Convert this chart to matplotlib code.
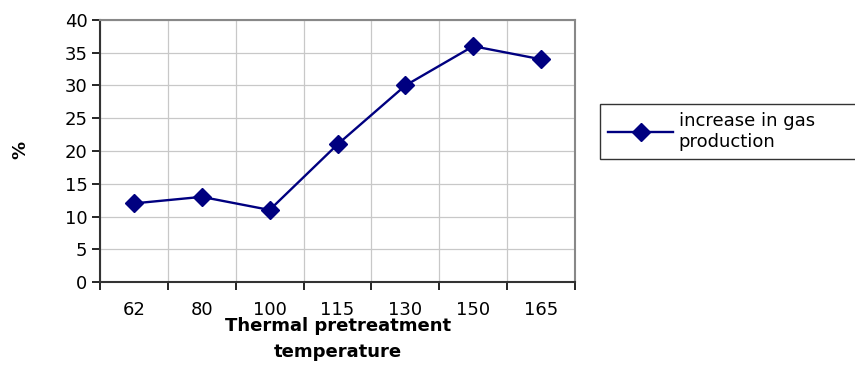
import matplotlib.pyplot as plt
import numpy as np

plt.rcParams["font.family"] = ["DejaVu Sans"]

temps = ["62", "80", "100", "115", "130", "150", "165"]
gas_increase = [12, 13, 11, 21, 30, 36, 34]

fig = plt.figure(figsize=(8.55, 3.65), dpi=100)
ax = fig.add_axes([100 / 855, 1 - 282 / 365, 475 / 855, 262 / 365])

x = np.arange(len(temps))
ax.plot(x, gas_increase, color="#000080", lw=1.7, marker="D", ms=9,
        mfc="#000080", mec="#000080", label="increase in gas\nproduction")

ax.set_xlim(-0.5, len(temps) - 0.5)
ax.set_ylim(0, 40)
ax.set_yticks(range(0, 41, 5))
ax.set_xticks(x)
ax.set_xticklabels(temps, fontsize=13)
ax.tick_params(axis="x", which="major", length=0, pad=14)
ax.set_xticks(np.arange(-0.5, len(temps)), minor=True)
ax.tick_params(axis="x", which="minor", length=6, width=1.2, direction="out")
ax.tick_params(axis="y", labelsize=13, length=6, width=1.2, pad=3)

# grid on category boundaries and every 5 %
ax.grid(True, which="minor", axis="x", color="#c8c8c8", lw=0.9)
ax.grid(True, which="major", axis="y", color="#c8c8c8", lw=0.9)
ax.set_axisbelow(True)

for s in ["left", "bottom"]:
    ax.spines[s].set_color("#333333")
    ax.spines[s].set_linewidth(1.5)
for s in ["top", "right"]:
    ax.spines[s].set_color("#888888")
    ax.spines[s].set_linewidth(1.5)

fig.text(20 / 855, 1 - 150 / 365, "%", rotation=90, ha="center", va="center",
         fontsize=13, fontweight="bold")
fig.text(338 / 855, 1 - 339 / 365, "Thermal pretreatment\ntemperature",
         ha="center", va="center", fontsize=13, fontweight="bold",
         linespacing=1.55)

# legend box runs past the right edge of the figure
leg = ax.legend(loc="upper left",
                bbox_to_anchor=(600 / 855, 1 - 163 / 365, 300 / 855, 59 / 365),
                bbox_transform=fig.transFigure, mode="expand", fontsize=13,
                frameon=True, fancybox=False, handlelength=3.6, borderpad=0.45,
                handletextpad=0.3, borderaxespad=0, labelspacing=0.25)
leg.get_frame().set_edgecolor("black")
leg.get_frame().set_linewidth(1.0)

fig.savefig("out.png", dpi=100)
